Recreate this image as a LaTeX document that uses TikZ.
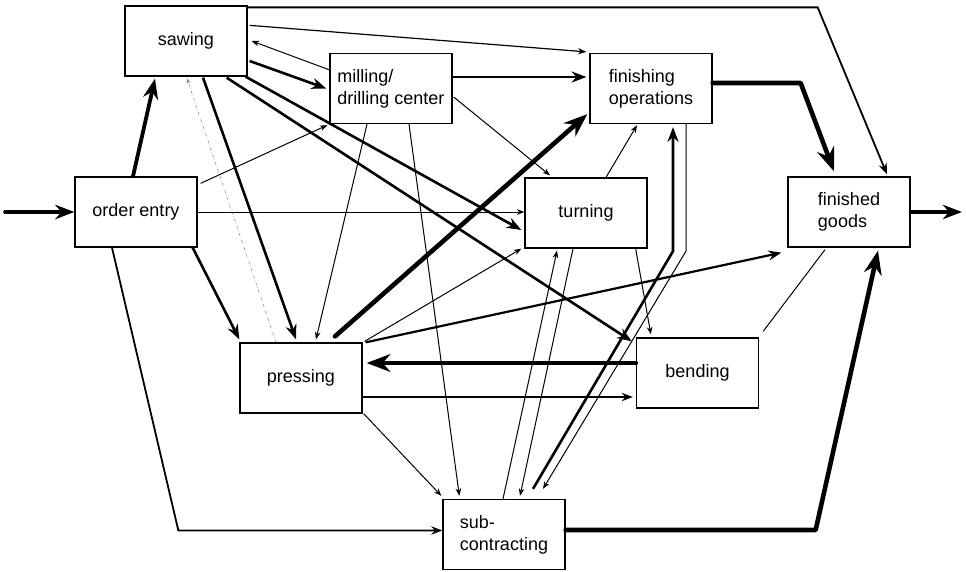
\documentclass[tikz,border=0pt]{standalone}
\usepackage{fontspec}
\setsansfont{Liberation Sans}
\usetikzlibrary{arrows.meta}
\tikzset{
  stn/.style={draw, line width=1.3pt, minimum width=122pt, minimum height=70pt, inner sep=0pt, align=left, font=\sffamily\fontsize{18}{22}\selectfont},
  arr/.style={-{Stealth}, line width=1pt},
  arrm/.style={arr, line width=1.8pt},
  arrt/.style={arr, line width=2.6pt},
  arrh/.style={arr, line width=4.6pt, line cap=round, line join=round},
  link/.style={line width=1pt},
  back/.style={-{Stealth[length=5pt]}, line width=0.5pt, gray, dash dot},
}
\begin{document}
\begin{tikzpicture}[x=1pt, y=-1pt]
\useasboundingbox (0,0) rectangle (966,571);
\node[stn] (saw) at (186,41) {sawing};
\node[stn] (mill) at (391,88.5) {milling/\\drilling center};
\node[stn] (order) at (136,212) {order entry};
\node[stn] (fin) at (651,88.5) {finishing\\operations};
\node[stn] (turn) at (586,213) {turning};
\node[stn] (goods) at (849,212) {finished\\goods};
\node[stn] (press) at (301,378) {pressing};
\node[stn] (bend) at (697.5,373) {bending};
\node[stn] (sub) at (504,534.5) {sub-\\contracting};
\coordinate (in) at (5,212);
\coordinate (out) at (962,212);
\draw[arrh, line width=3.6pt] (in) -- (order.west);
\draw[arrh, line width=3.8pt] ([xshift=-3pt]order.north) -- ([xshift=-31pt,yshift=-2pt]saw.south);
\draw[arr] ([xshift=3pt,yshift=-7pt]order.north east) -- ([xshift=-2pt,yshift=-1pt]mill.south west);
\draw[arr] (order.east) -- (order.east -| turn.west);
\draw[arrt] ([xshift=-5pt]order.south east) -- ([yshift=3pt]press.north west);
\draw[arrm] ([xshift=-24pt]order.south) -- ([xshift=-264pt,yshift=4pt]sub.west) -- ([yshift=4pt]sub.west);
\draw[arrm] ([yshift=-2pt]saw.north east) -- ++(570,0) -- ([xshift=38pt,yshift=2pt]goods.north);
\draw[arr, line width=1.2pt] ([xshift=2pt,yshift=-20pt]saw.north east) -- ([xshift=-3pt,yshift=1pt]fin.north west);
\draw[arrt] ([xshift=2pt,yshift=-20pt]saw.east) -- ([xshift=-3pt]mill.west);
\draw[arrt] ([xshift=-2pt]saw.south east) -- ([xshift=-3pt,yshift=-17pt]turn.west);
\draw[arrt] ([xshift=-21pt,yshift=-1pt]saw.south east) -- ([xshift=-4pt,yshift=-4pt]bend.north west);
\draw[arrt] ([xshift=17pt,yshift=-1pt]saw.south) -- ([xshift=-5pt,yshift=3pt]press.north);
\draw[back] ([xshift=-25pt]press.north) -- ([xshift=1pt,yshift=-2pt]saw.south);
\draw[arr] ([yshift=-17pt]mill.north west) -- ([xshift=4pt]saw.east);
\draw[arrt] ([yshift=11.5pt]mill.east) -- ([xshift=-3pt,yshift=11.5pt]fin.west);
\draw[arr] ([xshift=1pt,yshift=-8.5pt]mill.east) -- ([xshift=-36pt,yshift=2pt]turn.north);
\draw[arr] ([xshift=-24pt]mill.south) -- ([xshift=15pt,yshift=3pt]press.north);
\draw[arr] ([xshift=18pt]mill.south) -- ([xshift=17pt,yshift=3pt]sub.north west);
\draw[arrh] ([xshift=34pt,yshift=6pt]press.north) -- ([xshift=-2pt,yshift=10pt]fin.south west);
\draw[arr] ([xshift=2pt,yshift=1pt]press.north east) -- ([xshift=-3pt]turn.south west);
\draw[arrt, line width=2.2pt] ([xshift=3pt]press.north east) -- ([xshift=-6pt,yshift=-5pt]goods.south west);
\draw[arrm] ([yshift=-19pt]press.east) -- ([xshift=-3pt,yshift=-24pt]bend.west);
\draw[arr] ([xshift=1pt]press.south east) -- ([xshift=-1pt,yshift=3pt]sub.north west);
\draw[arrh] ([yshift=10pt]bend.west) -- ([xshift=4pt,yshift=15pt]press.east);
\draw[link] ([xshift=4pt,yshift=6pt]bend.north east) -- ([xshift=-24pt,yshift=-2pt]goods.south);
\draw[arr] ([xshift=20pt]turn.north) -- ([xshift=-14pt,yshift=-1pt]fin.south);
\draw[arr] ([xshift=-12pt]turn.south east) -- ([xshift=15pt,yshift=3pt]bend.north west);
\draw[arr] ([xshift=-13pt]turn.south) -- ([xshift=16pt,yshift=3pt]sub.north);
\draw[arr] ([xshift=-1pt]sub.north) -- ([xshift=-29pt,yshift=-2pt]turn.south);
\draw[arrt] ([xshift=29pt,yshift=10pt]sub.north) -- ([xshift=22pt,yshift=-127pt]fin.south) -- ([xshift=22pt,yshift=-3pt]fin.south);
\draw[arrh] ([yshift=4.5pt]sub.east) -- ++(250,0) -- ([xshift=29pt,yshift=-3pt]goods.south);
\draw[arr] ([xshift=35pt]fin.south) -- ([xshift=35pt,yshift=-127pt]fin.south) -- ([xshift=39pt,yshift=10pt]sub.north);
\draw[arrh] ([yshift=5.5pt]fin.east) -- ++(88,0) -- ([xshift=-15pt,yshift=5pt]goods.north);
\draw[arrh, line width=3.6pt] (goods.east) -- (out);
\end{tikzpicture}
\end{document}
